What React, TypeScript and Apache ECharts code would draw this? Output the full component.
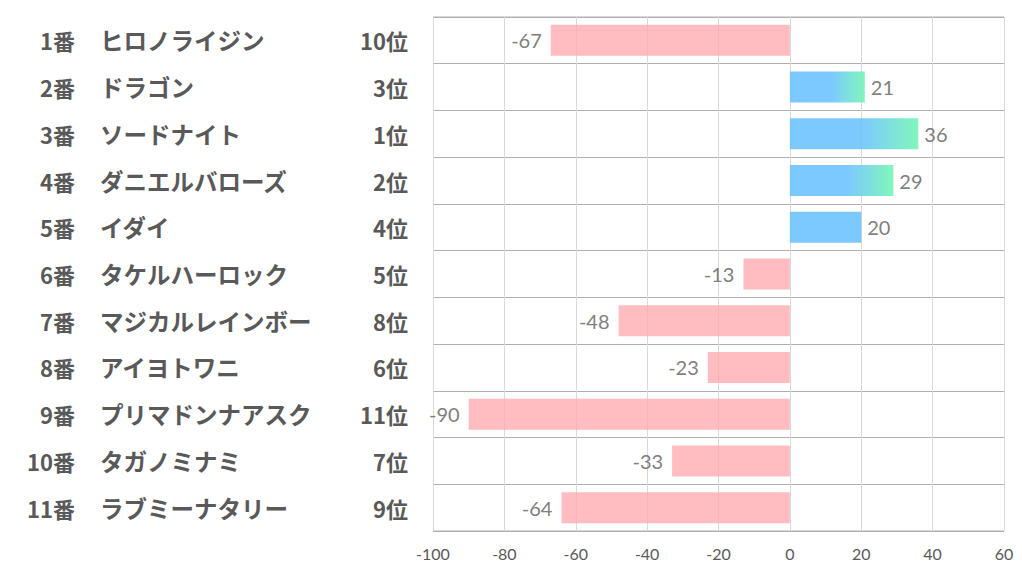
import React, { useEffect, useRef } from "react";
import * as echarts from "echarts";

const horseNumbers = ["1番", "2番", "3番", "4番", "5番", "6番", "7番", "8番", "9番", "10番", "11番"];
const horseNames = ["ヒロノライジン", "ドラゴン", "ソードナイト", "ダニエルバローズ", "イダイ", "タケルハーロック", "マジカルレインボー", "アイヨトワニ", "プリマドンナアスク", "タガノミナミ", "ラブミーナタリー"];
const ranks = ["10位", "3位", "1位", "2位", "4位", "5位", "8位", "6位", "11位", "7位", "9位"];
const values = [-67, 21, 36, 29, 20, -13, -48, -23, -90, -33, -64];

const PINK = "rgba(255,170,175,0.78)";
const BLUE = "rgba(110,195,255,0.9)";
const GREEN = "rgba(115,245,180,0.9)";

const labelFont = "'Noto Sans CJK JP', sans-serif";

export default function App() {
  const ref = useRef<HTMLDivElement>(null);
  useEffect(() => {
    const chart = echarts.init(ref.current!, null, { renderer: "svg" });
    const data = values.map((v) => {
      let color: any = PINK;
      if (v > 0) {
        color = v > 20
          ? new echarts.graphic.LinearGradient(0, 0, 1, 0, [
              { offset: 0, color: BLUE },
              { offset: 0.55, color: BLUE },
              { offset: 1, color: GREEN },
            ])
          : BLUE;
      }
      return {
        value: v,
        itemStyle: { color },
        label: { position: v < 0 ? "left" : "right", distance: v < 0 ? 9 : 6 },
      };
    });
    const baseY = {
      type: "category" as const,
      inverse: true,
      axisLine: { show: false },
      axisTick: { show: false },
      splitLine: { show: false },
    };
    const lbl = { color: "#595959", fontSize: 22, fontWeight: "bold", fontFamily: labelFont, padding: [0, 0, 3, 0] };
    chart.setOption({
      animation: false,
      grid: { left: 433, right: 18, top: 17, bottom: 43, containLabel: false },
      xAxis: {
        type: "value",
        min: -100,
        max: 60,
        interval: 20,
        axisLine: { show: false },
        axisTick: { show: false },
        axisLabel: { color: "#595959", fontSize: 16, fontFamily: "Lato, 'Noto Sans', sans-serif", margin: 14 },
        splitLine: { show: true, lineStyle: { color: "#d9d9d9", width: 1 } },
      },
      yAxis: [
        {
          ...baseY,
          data: ranks,
          splitLine: { show: true, lineStyle: { color: "#b0b0b0", width: 1 } },
          axisLabel: { ...lbl, margin: 25, align: "right" },
        },
        {
          ...baseY,
          data: horseNames,
          position: "left",
          axisLabel: { ...lbl, fontSize: 23.5, margin: 333, align: "left" },
        },
        {
          ...baseY,
          data: horseNumbers,
          position: "left",
          axisLabel: { ...lbl, margin: 358, align: "right" },
        },
      ],
      series: [
        {
          type: "bar",
          yAxisIndex: 0,
          data,
          barWidth: 31,
          label: {
            show: true,
            color: "#7f7f7f",
            fontSize: 20,
            fontFamily: "Lato, 'Noto Sans', sans-serif",
          },
        },
      ],
      graphic: [
        { type: "line", shape: { x1: 433, y1: 17, x2: 1004, y2: 17 }, style: { stroke: "#b0b0b0", lineWidth: 1 } },
        { type: "line", shape: { x1: 433, y1: 531, x2: 1004, y2: 531 }, style: { stroke: "#b0b0b0", lineWidth: 1 } },
      ],
    });
    return () => chart.dispose();
  }, []);
  return <div ref={ref} style={{ width: 1022, height: 574, position: "absolute", left: 0, top: 0, background: "#fff" }} />;
}
